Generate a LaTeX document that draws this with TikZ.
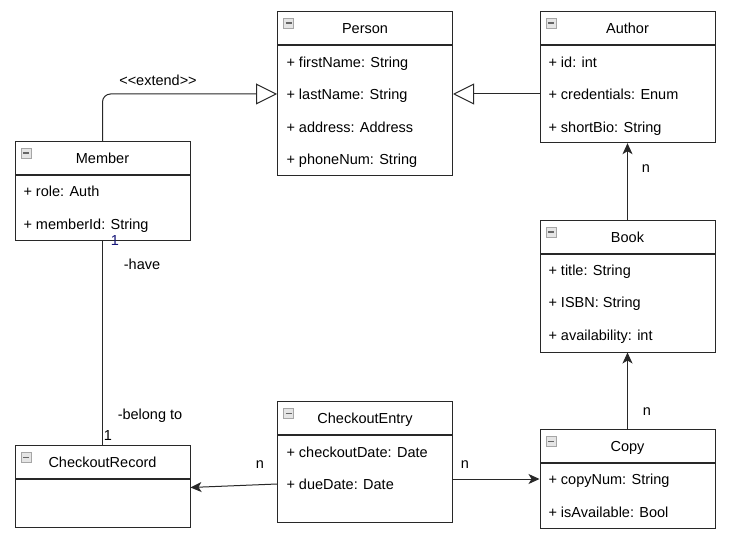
\documentclass[tikz,border=0pt]{standalone}
\usepackage{fontspec}
\setmainfont{Liberation Sans}
\usetikzlibrary{arrows.meta}
\usetikzlibrary{positioning}

\definecolor{umlline}{RGB}{40,40,40}
\definecolor{multblue}{RGB}{20,20,120}

\tikzset{
  classhead/.style={draw=umlline, minimum width=175pt, minimum height=32.6pt, inner sep=0pt,
    text height=10.4pt, text depth=0pt},
  classbody/.style={draw=umlline, minimum width=175pt, inner sep=0pt},
  attr/.style={anchor=west, inner sep=0pt, text height=10.4pt, text depth=0pt},
  lbl/.style={inner sep=0pt, text height=10.4pt, text depth=0pt},
  icon/.style={draw=black!35, fill=black!10, line width=0.6pt, minimum size=10pt, inner sep=0pt,
    path picture={\draw[black!60, line width=1.4pt]
      ([xshift=2pt]path picture bounding box.west) -- ([xshift=-2pt]path picture bounding box.east);}},
  extendarrow/.style={draw=umlline, -{Triangle[open,length=21pt,width=21pt]}},
  assoc/.style={draw=umlline, -{Stealth[length=11pt,width=10pt,inset=3pt]}}
}

\begin{document}
\begin{tikzpicture}[x=1pt,y=-1pt,line width=1pt,font=\fontsize{14.5}{17}\selectfont]
  \useasboundingbox (0,0) rectangle (738,545);

  % Person
  \node[classhead] (personh) at (365,28) {Person};
  \node[classbody,minimum height=130.7pt,below=0pt of personh] (personb) {};
  \node[attr] (pFirst) at (286,62) {+ firstName: String};
  \node[attr] (pLast) at (286,94) {+ lastName: String};
  \node[attr] (pAddr) at (286,127) {+ address: Address};
  \node[attr] (pPhone) at (286,159) {+ phoneNum: String};

  % Author
  \node[classhead] (authorh) at (627.5,28) {Author};
  \node[classbody,minimum height=97.4pt,below=0pt of authorh] (authorb) {};
  \node[attr] (aId) at (548,62) {+ id: int};
  \node[attr] (aCred) at (548,94) {+ credentials: Enum};
  \node[attr] (aBio) at (548,127) {+ shortBio: String};

  % Member
  \node[classhead] (memberh) at (102.5,158) {Member};
  \node[classbody,minimum height=65pt,below=0pt of memberh] (memberb) {};
  \node[attr] (mRole) at (23,191.7) {+ role: Auth};
  \node[attr] (mId) at (23,224) {+ memberId: String};

  % Book
  \node[classhead] (bookh) at (627.5,237) {Book};
  \node[classbody,minimum height=97.7pt,below=0pt of bookh] (bookb) {};
  \node[attr] (bTitle) at (548,270) {+ title: String};
  \node[attr] (bIsbn) at (548,302) {+ ISBN: String};
  \node[attr] (bAvail) at (548,335) {+ availability: int};

  % Copy
  \node[classhead] (copyh) at (627.5,446) {Copy};
  \node[classbody,minimum height=65pt,below=0pt of copyh] (copyb) {};
  \node[attr] (cNum) at (548,479) {+ copyNum: String};
  \node[attr] (cAvail) at (548,512) {+ isAvailable: Bool};

  % CheckoutEntry
  \node[classhead] (entryh) at (365,418) {CheckoutEntry};
  \node[classbody,minimum height=87.4pt,below=0pt of entryh] (entryb) {};
  \node[attr] (eCheck) at (286,452) {+ checkoutDate: Date};
  \node[attr] (eDue) at (286,484) {+ dueDate: Date};

  % CheckoutRecord
  \node[classhead] (recordh) at (102.5,462) {CheckoutRecord};
  \node[classbody,minimum height=48.4pt,below=0pt of recordh] (recordb) {};

  \foreach \c in {person,author,member,book,copy,entry,record}
    \node[icon] (\c i) at ([xshift=11.5pt,yshift=-12pt]\c h.north west) {};

  % inheritance
  \draw[extendarrow,rounded corners=8pt] (memberh.north) |- (pLast -| personb.west);
  \node[lbl] (extendlbl) at (158,80) {<\kern0pt<extend>\kern0pt>};
  \draw[extendarrow] (aCred -| authorb.west) -- (pLast -| personb.east);

  % associations
  \draw[assoc] (bookh.north) -- (authorb.south);
  \node[lbl] (nAuthor) at (646,167) {n};
  \draw[assoc] (copyh.north) -- (bookb.south);
  \node[lbl] (nBook) at (647,410) {n};
  \draw[assoc] (entryb.east |- cNum) -- (cNum -| copyb.west);
  \node[lbl] (nCopy) at (465,463) {n};
  \draw[assoc] (eDue -| entryb.west) -- ([yshift=16pt]recordb.east);
  \node[lbl] (nRecord) at (260,463) {n};

  \draw[umlline] (memberb.south) -- (recordh.north);
  \node[lbl,text=multblue] (oneMember) at (115,240) {1};
  \node[lbl] (havelbl) at (142,264) {-have};
  \node[lbl] (belonglbl) at (150,414) {-belong to};
  \node[lbl] (oneRecord) at (108,435) {1};
\end{tikzpicture}
\end{document}
